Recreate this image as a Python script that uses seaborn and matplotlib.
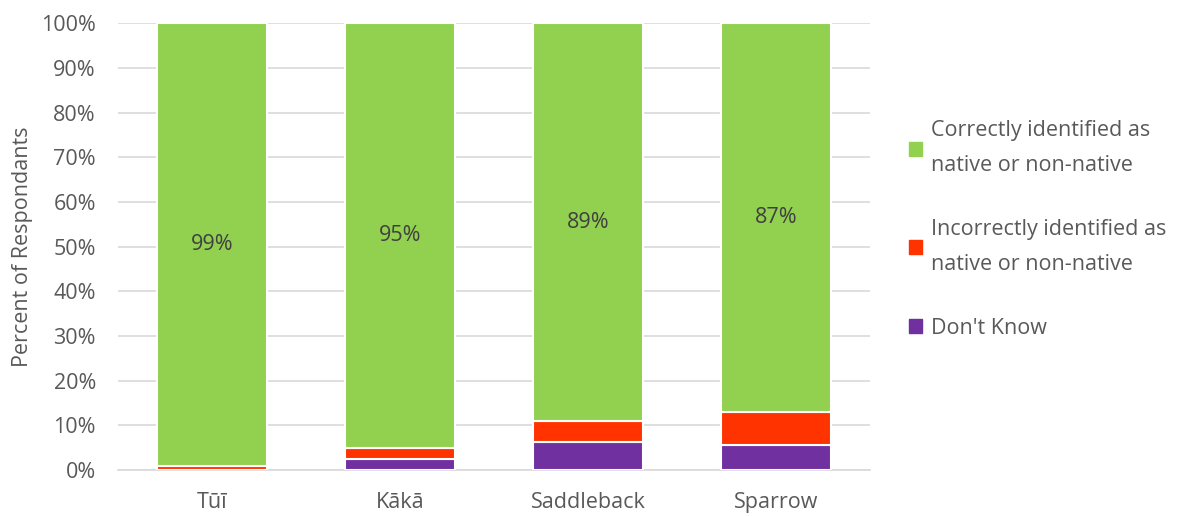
import matplotlib
matplotlib.use("Agg")
import matplotlib.pyplot as plt
import seaborn as sns
import numpy as np
import pandas as pd
from matplotlib.patches import Patch

birds = ["Tūī", "Kākā", "Saddleback", "Sparrow"]
dont_know = [0.0, 2.5, 6.3, 5.6]
incorrect = [1.0, 2.5, 4.7, 7.4]
correct = [99, 95, 89, 87]

series_names = [
    "Correctly identified as\nnative or non-native",
    "Incorrectly identified as\nnative or non-native",
    "Don't Know",
]
colors = {"correct": "#92D050", "incorrect": "#FF3300", "dk": "#7030A0"}

sns.set_theme(style="white")
plt.rcParams["font.family"] = ["Open Sans", "DejaVu Sans"]
text_color = "#595959"
fs = 15.5

fig = plt.figure(figsize=(11.82, 5.16), dpi=100)
ax = fig.add_axes([0.100, 0.089, 0.636, 0.866])

df = pd.DataFrame({"bird": birds, "dk": dont_know, "inc": incorrect, "cor": correct})
df["base_inc"] = df["dk"]
df["base_cor"] = df["dk"] + df["inc"]

bar_kw = dict(width=0.585, edgecolor="white", linewidth=1.5, ax=ax, zorder=3)
sns.barplot(data=df, x="bird", y="dk", color=colors["dk"], saturation=1, **bar_kw)
sns.barplot(data=df, x="bird", y="inc", bottom=df["base_inc"].values,
            color=colors["incorrect"], saturation=1, **bar_kw)
sns.barplot(data=df, x="bird", y="cor", bottom=df["base_cor"].values,
            color=colors["correct"], saturation=1, **bar_kw)

# value labels centred in the green segment
for i, row in df.iterrows():
    ax.text(i, row["base_cor"] + row["cor"] / 2, f"{row['cor']:.0f}%",
            ha="center", va="center", fontsize=fs, color="#404040", zorder=4)

ax.set_ylim(0, 100)
ax.set_xlim(-0.5, 3.5)
ax.set_yticks(np.arange(0, 101, 10))
ax.set_yticklabels([f"{v}%" for v in range(0, 101, 10)])
ax.yaxis.grid(True, color="#D9D9D9", linewidth=1.2, zorder=0)
ax.set_axisbelow(True)
for s in ["top", "right", "left"]:
    ax.spines[s].set_visible(False)
ax.spines["bottom"].set_color("#D9D9D9")
ax.spines["bottom"].set_linewidth(1.2)
ax.tick_params(axis="both", length=0, labelsize=fs, labelcolor=text_color)
ax.tick_params(axis="x", pad=16)
ax.tick_params(axis="y", pad=16)
ax.set_xlabel("")
ax.set_ylabel("Percent of Respondants", fontsize=fs, color=text_color, labelpad=6)

handles = [Patch(color=colors["correct"]), Patch(color=colors["incorrect"]),
           Patch(color=colors["dk"])]
leg = fig.legend(handles, series_names, loc="center left",
                 bbox_to_anchor=(0.753, 0.555), frameon=False, fontsize=fs,
                 handlelength=0.6, handleheight=0.6, handletextpad=0.4,
                 labelspacing=2.0)
for t in leg.get_texts():
    t.set_color(text_color)
    t.set_linespacing(1.85)

fig.savefig("out.png", dpi=100)
